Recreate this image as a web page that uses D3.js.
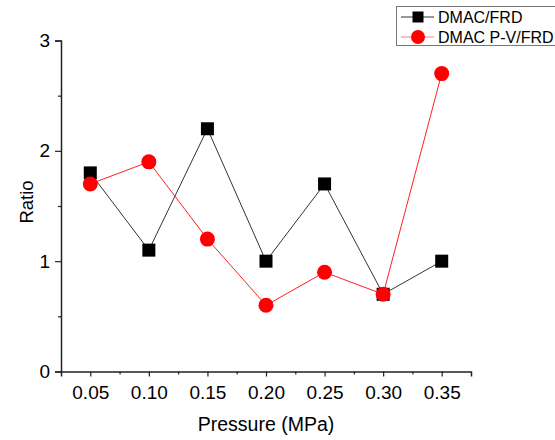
<!DOCTYPE html>
<html><head><meta charset="utf-8">
<script src="https://cdn.jsdelivr.net/npm/d3@7"></script>
<style>
body{margin:0;background:#fff;}
svg{display:block;font-family:"Liberation Sans",Arial,sans-serif;}
</style></head>
<body>
<svg id="c" width="555" height="440"></svg>
<script>
const pressures = [0.05, 0.10, 0.15, 0.20, 0.25, 0.30, 0.35];
const frdValues = [1.8, 1.1, 2.2, 1.0, 1.7, 0.7, 1.0];
const pvValues = [1.7, 1.9, 1.2, 0.6, 0.9, 0.7, 2.7];
const xTickLabels = ["0.05","0.10","0.15","0.20","0.25","0.30","0.35"];
const yTicks = [0, 1, 2, 3];
const seriesNames = ["DMAC/FRD", "DMAC P-V/FRD"];

const svg = d3.select("#c");
const x = d3.scaleLinear().domain([0.025, 0.375]).range([61, 471]);
const y = d3.scaleLinear().domain([0, 3]).range([371.5, 40.5]);

// axes
const xMinor = d3.range(0.075, 0.375, 0.05);
const yMinor = [0.5, 1.5, 2.5];

const gx = svg.append("g").attr("transform", "translate(0,371.5)");
gx.call(d3.axisBottom(x).tickValues(pressures).tickFormat((d,i)=>xTickLabels[i]).tickSizeOuter(0).tickSize(5).tickPadding(9));
gx.selectAll(".tick text").attr("font-size", 19).attr("fill","#000");
gx.append("g").call(d3.axisBottom(x).tickValues(xMinor).tickFormat("").tickSize(3).tickSizeOuter(0)).select(".domain").remove();

const gy = svg.append("g").attr("transform", "translate(61,0)");
gy.call(d3.axisLeft(y).tickValues(yTicks).tickFormat(d3.format("d")).tickSizeOuter(0).tickSize(6).tickPadding(5));
gy.selectAll(".tick text").attr("font-size", 19).attr("fill","#000");
gy.append("g").call(d3.axisLeft(y).tickValues(yMinor).tickFormat("").tickSize(3).tickSizeOuter(0)).select(".domain").remove();

svg.selectAll(".domain").attr("stroke","#222").attr("stroke-width",1.5);
svg.selectAll(".tick line").attr("stroke","#222").attr("stroke-width",1.2);

// titles
svg.append("text").attr("x", 266).attr("y", 431).attr("text-anchor","middle")
  .attr("font-size", 19.5).text("Pressure (MPa)");
svg.append("text").attr("transform","translate(33,202) rotate(-90)").attr("text-anchor","middle")
  .attr("font-size", 18.5).text("Ratio");

// series
const line = d3.line().x((d,i)=>x(pressures[i])).y(d=>y(d));
svg.append("path").datum(frdValues).attr("d", line).attr("fill","none").attr("stroke","#333").attr("stroke-width",1);
svg.selectAll(".sq").data(frdValues).join("rect").attr("class","sq")
  .attr("x",(d,i)=>x(pressures[i])-6.5).attr("y",d=>y(d)-6.5).attr("width",13).attr("height",13).attr("fill","#000");

svg.append("path").datum(pvValues).attr("d", line).attr("fill","none").attr("stroke","#ff2020").attr("stroke-width",1);
svg.selectAll(".ci").data(pvValues).join("circle").attr("class","ci")
  .attr("cx",(d,i)=>x(pressures[i])).attr("cy",d=>y(d)).attr("r",7.5).attr("fill","#f00");

// legend
const lg = svg.append("g");
lg.append("rect").attr("x",396.5).attr("y",6.5).attr("width",170).attr("height",39).attr("fill","#fff").attr("stroke","#777").attr("stroke-width",1);
const rows = [17, 37];
lg.append("line").attr("x1",401).attr("x2",434).attr("y1",rows[0]).attr("y2",rows[0]).attr("stroke","#333");
lg.append("rect").attr("x",418-5.5).attr("y",rows[0]-5.5).attr("width",11).attr("height",11).attr("fill","#000");
lg.append("line").attr("x1",401).attr("x2",434).attr("y1",rows[1]).attr("y2",rows[1]).attr("stroke","#ff8080");
lg.append("circle").attr("cx",418).attr("cy",rows[1]).attr("r",7).attr("fill","#f00");
seriesNames.forEach((n,i)=>{
  lg.append("text").attr("x",438).attr("y",rows[i]+6).attr("font-size",16).text(n);
});
</script>
</body></html>
